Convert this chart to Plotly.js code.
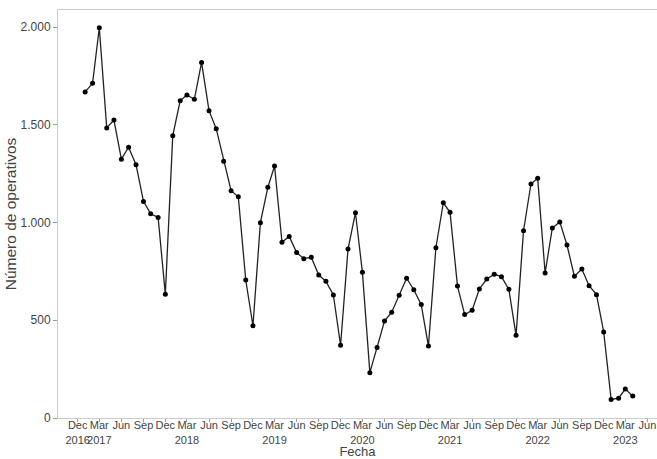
<!DOCTYPE html>
<html>
<head>
<meta charset="utf-8">
<script src="https://cdn.plot.ly/plotly-3.0.1.min.js"></script>
<style>html,body{margin:0;padding:0;background:#fff;}#chart{width:657px;height:459px;}</style>
</head>
<body>
<div id="chart"></div>
<script>
const fechas = [
  "2017-01-01","2017-02-01","2017-03-01","2017-04-01","2017-05-01","2017-06-01","2017-07-01","2017-08-01","2017-09-01","2017-10-01","2017-11-01","2017-12-01",
  "2018-01-01","2018-02-01","2018-03-01","2018-04-01","2018-05-01","2018-06-01","2018-07-01","2018-08-01","2018-09-01","2018-10-01","2018-11-01","2018-12-01",
  "2019-01-01","2019-02-01","2019-03-01","2019-04-01","2019-05-01","2019-06-01","2019-07-01","2019-08-01","2019-09-01","2019-10-01","2019-11-01","2019-12-01",
  "2020-01-01","2020-02-01","2020-03-01","2020-04-01","2020-05-01","2020-06-01","2020-07-01","2020-08-01","2020-09-01","2020-10-01","2020-11-01","2020-12-01",
  "2021-01-01","2021-02-01","2021-03-01","2021-04-01","2021-05-01","2021-06-01","2021-07-01","2021-08-01","2021-09-01","2021-10-01","2021-11-01","2021-12-01",
  "2022-01-01","2022-02-01","2022-03-01","2022-04-01","2022-05-01","2022-06-01","2022-07-01","2022-08-01","2022-09-01","2022-10-01","2022-11-01","2022-12-01",
  "2023-01-01","2023-02-01","2023-03-01","2023-04-01"
];
const operativos = [
  1668,1712,1996,1484,1524,1324,1385,1296,1108,1045,1026,633,
  1444,1623,1652,1630,1819,1572,1480,1313,1163,1132,706,472,
  999,1180,1289,899,929,846,815,822,731,699,629,372,
  864,1050,745,232,360,496,541,628,715,656,580,368,
  871,1101,1052,675,529,551,660,711,735,723,658,423,
  958,1197,1226,742,972,1003,885,725,762,677,631,440,
  95,101,148,112
];

const tickFechas = [
  "2016-12-01","2017-03-01","2017-06-01","2017-09-01",
  "2017-12-01","2018-03-01","2018-06-01","2018-09-01",
  "2018-12-01","2019-03-01","2019-06-01","2019-09-01",
  "2019-12-01","2020-03-01","2020-06-01","2020-09-01",
  "2020-12-01","2021-03-01","2021-06-01","2021-09-01",
  "2021-12-01","2022-03-01","2022-06-01","2022-09-01",
  "2022-12-01","2023-03-01","2023-06-01"
];
const tickEtiquetas = [
  "Dec<br>2016","Mar<br>2017","Jun","Sep",
  "Dec","Mar<br>2018","Jun","Sep",
  "Dec","Mar<br>2019","Jun","Sep",
  "Dec","Mar<br>2020","Jun","Sep",
  "Dec","Mar<br>2021","Jun","Sep",
  "Dec","Mar<br>2022","Jun","Sep",
  "Dec","Mar<br>2023","Jun"
];

const trace = {
  x: fechas,
  y: operativos,
  type: 'scatter',
  mode: 'lines+markers',
  line: {color: '#222222', width: 1.3},
  marker: {color: '#000000', size: 5},
  showlegend: false
};

const layout = {
  width: 657,
  height: 459,
  margin: {l: 58, r: 0, t: 10, b: 41},
  paper_bgcolor: '#ffffff',
  plot_bgcolor: '#ffffff',
  separators: ',.',
  font: {family: '"Liberation Sans", Arial, sans-serif', size: 12, color: '#444444'},
  xaxis: {
    type: 'date',
    range: ['2016-09-10', '2023-07-11'],
    tickmode: 'array',
    tickvals: tickFechas,
    ticktext: tickEtiquetas,
    tickangle: 0,
    ticklabeloverflow: 'allow',
    ticklabelstandoff: -6,
    automargin: false,
    showgrid: false,
    zeroline: false,
    showline: true,
    mirror: true,
    linecolor: '#cccccc',
    linewidth: 1,
    ticks: 'outside',
    ticklen: 3,
    tickcolor: '#999999',
    tickfont: {size: 11, color: '#444444'},
    title: {text: 'Fecha', font: {size: 13, color: '#444444'}, standoff: 2}
  },
  yaxis: {
    range: [0, 2087],
    tickvals: [0, 500, 1000, 1500, 2000],
    tickformat: ',d',
    automargin: false,
    showgrid: false,
    zeroline: false,
    showline: true,
    linecolor: '#cccccc',
    linewidth: 1,
    ticks: 'outside',
    ticklen: 4,
    tickcolor: '#999999',
    tickfont: {size: 12, color: '#444444'},
    title: {text: 'Número de operativos', font: {size: 15.5, color: '#444444'}, standoff: 0}
  }
};

Plotly.newPlot('chart', [trace], layout, {displayModeBar: false, staticPlot: true});
</script>
</body>
</html>
